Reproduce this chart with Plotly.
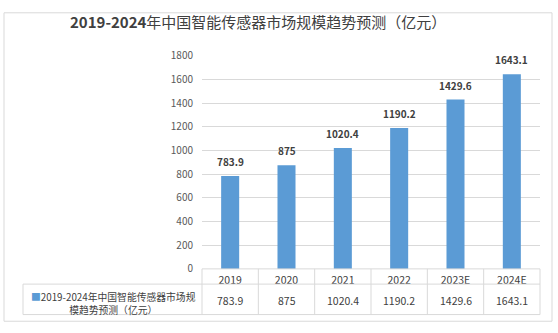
import plotly.graph_objects as go

# Market size of smart sensors in China, 2019-2024 (100 million yuan)
years = ["2019", "2020", "2021", "2022", "2023E", "2024E"]
values = [783.9, 875, 1020.4, 1190.2, 1429.6, 1643.1]
y_ticks = [0, 200, 400, 600, 800, 1000, 1200, 1400, 1600, 1800]
title_text = "<b>2019-2024</b>年中国智能传感器市场规模趋势预测（亿元）"
series_line1 = "2019-2024年中国智能传感器市场规"
series_line2 = "模趋势预测（亿元）"

W, H = 558, 333
BAR_COLOR = "#5b9bd5"
GRID = "#d9d9d9"
TEXT = "#404040"
FONT = "Noto Sans CJK SC, Noto Sans, sans-serif"

# plot area in pixels
X0, X1 = 202, 540
Y_TOP, Y_ZERO = 49, 273
ROW1, ROW2 = 289, 321
TABLE_LEFT = 23


def px(x):
    return x / W


def py(y):
    return 1 - y / H


pos = list(range(len(years)))

fig = go.Figure()
fig.add_trace(go.Bar(
    x=pos, y=values, marker=dict(color=BAR_COLOR, line=dict(width=0)),
    width=0.32, hovertext=years, hoverinfo="text+y",
))

shapes = []
# outer frame
shapes.append(dict(type="rect", xref="paper", yref="paper",
                   x0=px(4), x1=px(552), y0=py(328), y1=py(4),
                   line=dict(color="#d9d9d9", width=1)))
# data table grid
for yy, xl in [(Y_ZERO, X0), (ROW1, TABLE_LEFT), (ROW2, TABLE_LEFT)]:
    shapes.append(dict(type="line", xref="paper", yref="paper",
                       x0=px(xl), x1=px(X1), y0=py(yy), y1=py(yy),
                       line=dict(color=GRID, width=1)))
col_w = (X1 - X0) / len(years)
for k in range(len(years) + 1):
    xx = X0 + k * col_w
    shapes.append(dict(type="line", xref="paper", yref="paper",
                       x0=px(xx), x1=px(xx), y0=py(ROW2), y1=py(Y_ZERO),
                       line=dict(color=GRID, width=1)))
shapes.append(dict(type="line", xref="paper", yref="paper",
                   x0=px(TABLE_LEFT), x1=px(TABLE_LEFT), y0=py(ROW2), y1=py(ROW1),
                   line=dict(color=GRID, width=1)))

annotations = []
# value labels above bars
for i, v in zip(pos, values):
    annotations.append(dict(x=i, y=v, xref="x", yref="y", text=f"<b>{v:g}</b>",
                            showarrow=False, yanchor="bottom", yshift=5,
                            font=dict(size=10, color=TEXT, family=FONT)))
# table values row
for i, v in zip(pos, values):
    annotations.append(dict(x=i, y=py((ROW1 + ROW2) / 2 + 1), xref="x", yref="paper",
                            text=f"{v:g}", showarrow=False, yanchor="middle",
                            font=dict(size=10.5, color=TEXT, family=FONT)))
# series name cell
annotations.append(dict(
    x=px((TABLE_LEFT + X0) / 2 + 1), y=py((ROW1 + ROW2) / 2 + 4), xref="paper", yref="paper",
    text=f"<span style='color:{BAR_COLOR}'>■</span>{series_line1}<br>{series_line2}",
    showarrow=False, align="center", xanchor="center", yanchor="middle",
    font=dict(size=9.8, color=TEXT, family=FONT),
))
# title
annotations.append(dict(x=px(258), y=py(13), xref="paper", yref="paper",
                        text=title_text, showarrow=False, xanchor="center",
                        yanchor="middle", font=dict(size=15, color=TEXT, family=FONT)))

fig.update_layout(
    width=W, height=H, margin=dict(l=0, r=0, t=0, b=0),
    paper_bgcolor="white", plot_bgcolor="white",
    showlegend=False,
    shapes=shapes, annotations=annotations,
    xaxis=dict(domain=[px(X0), px(X1)], range=[-0.5, len(years) - 0.5],
               tickvals=pos, ticktext=years, showgrid=False, zeroline=False,
               showline=False, ticks="", ticklabelstandoff=4,
               tickfont=dict(size=10.5, color=TEXT, family=FONT)),
    yaxis=dict(domain=[py(Y_ZERO), py(Y_TOP)], range=[0, 1800], tickvals=y_ticks,
               showgrid=True, gridcolor=GRID, gridwidth=1, zeroline=False,
               showline=False, ticks="", ticklabelstandoff=8,
               tickfont=dict(size=10, color="#595959", family=FONT)),
)

fig.write_html("out.html")
